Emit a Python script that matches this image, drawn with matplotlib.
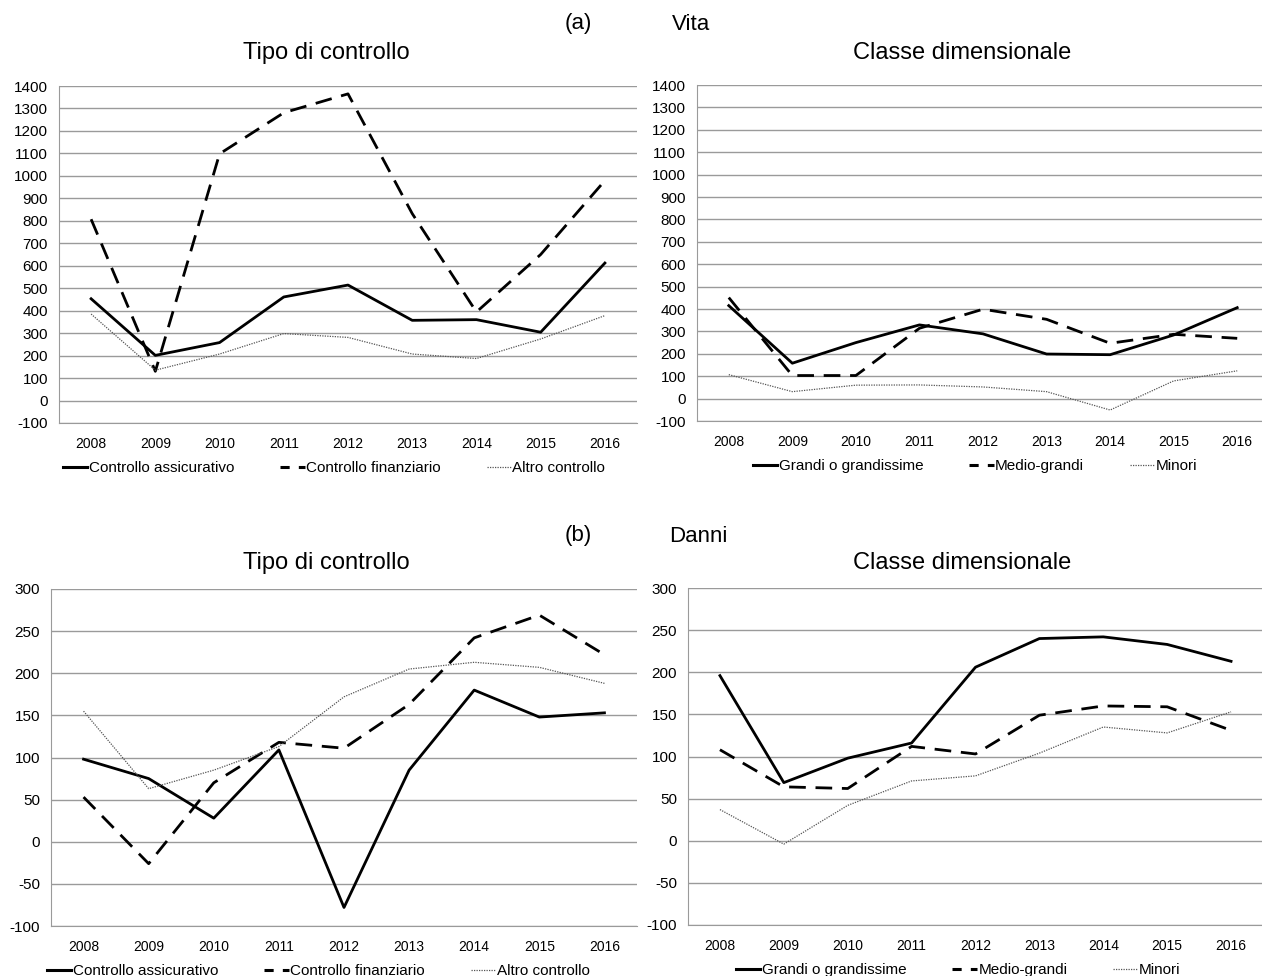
import matplotlib
matplotlib.use('Agg')
import matplotlib.pyplot as plt
from matplotlib.lines import Line2D
import numpy as np

plt.rcParams['font.family'] = ['Liberation Sans', 'DejaVu Sans']
plt.rcParams['axes.unicode_minus'] = False

years = ['2008', '2009', '2010', '2011', '2012', '2013', '2014', '2015', '2016']

# (a) Vita - Tipo di controllo
vita_assic = [453, 201, 258, 461, 514, 357, 360, 304, 612]
vita_finanz = [807, 130, 1098, 1281, 1365, 832, 394, 650, 979]
vita_altro = [385, 135, 207, 298, 281, 207, 187, 274, 378]
# (a) Vita - Classe dimensionale
vita_grandi = [415, 158, 250, 329, 289, 199, 196, 284, 406]
vita_medio = [451, 103, 103, 314, 399, 354, 247, 287, 269]
vita_minori = [107, 31, 60, 61, 52, 31, -51, 79, 124]

# (b) Danni - Tipo di controllo
danni_assic = [98, 75, 28, 109, -78, 85, 180, 148, 153]
danni_finanz = [53, -26, 70, 118, 111, 163, 242, 269, 222]
danni_altro = [155, 63, 85, 113, 172, 205, 213, 207, 188]
# (b) Danni - Classe dimensionale
danni_grandi = [196, 69, 98, 116, 206, 240, 242, 233, 213]
danni_medio = [108, 64, 62, 112, 103, 149, 160, 159, 131]
danni_minori = [37, -4, 42, 71, 77, 104, 135, 128, 153]

labels_tipo = ['Controllo assicurativo', 'Controllo finanziario', 'Altro controllo']
labels_classe = ['Grandi o grandissime', 'Medio-grandi', 'Minori']

W, H = 1262, 976
fig = plt.figure(figsize=(W / 100, H / 100), dpi=100)

styles = [
    dict(color='black', lw=2.0, ls='-'),
    dict(color='black', lw=2.0, ls=(0, (6, 3.5))),
    dict(color='#555555', lw=0.9, ls=(0, (1, 1))),
]
# stili delle chiavi di legenda (tratteggio corto come nell'originale)
leg_styles = [
    dict(color='black', lw=2.2, ls='-'),
    dict(color='black', lw=2.2, ls=(0, (3, 3))),
    dict(color='#555555', lw=0.9, ls=(0, (1, 1))),
]


def px_axes(x0, x1, ytop, ybot):
    return fig.add_axes([x0 / W, 1 - ybot / H, (x1 - x0) / W, (ybot - ytop) / H])


def draw_panel(ax, series, labels, ylim, ystep, leg_x):
    x = np.arange(len(years))
    for vals, st in zip(series, styles):
        ax.plot(x, vals, **st)
    ax.set_xlim(-0.5, 8.5)
    ax.set_ylim(*ylim)
    ax.set_yticks(np.arange(ylim[0], ylim[1] + 1, ystep))
    ax.set_xticks(x)
    ax.set_xticklabels(years)
    ax.tick_params(axis='both', length=0)
    ax.tick_params(axis='y', labelsize=11, pad=8)
    ax.tick_params(axis='x', labelsize=10, pad=10)
    ax.grid(axis='y', color='#9a9a9a', lw=1.0)
    ax.set_axisbelow(True)
    for s in ['top', 'right']:
        ax.spines[s].set_visible(False)
    for s in ['left', 'bottom']:
        ax.spines[s].set_color('#9a9a9a')
    handles = [Line2D([], [], **st) for st in leg_styles]
    ax.legend(handles, labels, loc='upper center', bbox_to_anchor=(leg_x, -0.082), ncol=3,
              frameon=False, fontsize=11, handlelength=1.6, handletextpad=0.1,
              columnspacing=3.0, borderpad=0.2)


ax1 = px_axes(59, 637, 86, 423)
draw_panel(ax1, [vita_assic, vita_finanz, vita_altro], labels_tipo, (-100, 1400), 100, 0.476)
ax2 = px_axes(697, 1269, 85, 421)
draw_panel(ax2, [vita_grandi, vita_medio, vita_minori], labels_classe, (-100, 1400), 100, 0.486)
ax3 = px_axes(51, 637, 589, 926)
draw_panel(ax3, [danni_assic, danni_finanz, danni_altro], labels_tipo, (-100, 300), 50, 0.456)
ax4 = px_axes(688, 1263, 588, 925)
draw_panel(ax4, [danni_grandi, danni_medio, danni_minori], labels_classe, (-100, 300), 50, 0.47)

# titoli dei pannelli
fig.text(326 / W, 1 - 53 / H, 'Tipo di controllo', fontsize=17, ha='center', va='center')
fig.text(962 / W, 1 - 53 / H, 'Classe dimensionale', fontsize=17, ha='center', va='center')
fig.text(326 / W, 1 - 563 / H, 'Tipo di controllo', fontsize=17, ha='center', va='center')
fig.text(962 / W, 1 - 563 / H, 'Classe dimensionale', fontsize=17, ha='center', va='center')

fig.text(578 / W, 1 - 24 / H, '(a)', fontsize=16, ha='center', va='center')
fig.text(691 / W, 1 - 24 / H, 'Vita', fontsize=16, ha='center', va='center')
fig.text(578 / W, 1 - 536 / H, '(b)', fontsize=16, ha='center', va='center')
fig.text(698 / W, 1 - 536 / H, 'Danni', fontsize=16, ha='center', va='center')

fig.savefig('out.png', dpi=100, facecolor='white')
